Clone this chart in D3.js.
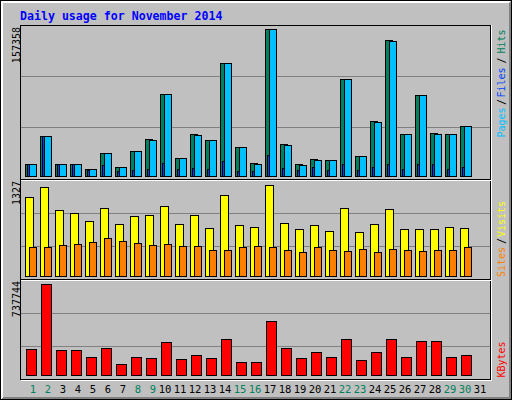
<!DOCTYPE html>
<html>
<head>
<meta charset="utf-8">
<script src="https://cdn.jsdelivr.net/npm/d3@7"></script>
<style>
  body { margin: 0; background: #fff; }
  svg { display: block; }
  text { font-family: "DejaVu Sans Mono", monospace; }
</style>
</head>
<body>
<svg></svg>
<script>
// daily values
const days = [1,2,3,4,5,6,7,8,9,10,11,12,13,14,15,16,17,18,19,20,21,22,23,24,25,26,27,28,29,30,31];
const weekend = [1,2,8,9,15,16,22,23,29,30];

const hits  = [12870,42790,12910,12820,7480,24650,9610,26790,39580,87810,19240,44990,38510,120940,31070,13890,
               157358,34230,12880,18170,17150,103870,21380,58910,145560,44930,86740,46060,44980,53490,0];
const files = [12400,42400,12500,12450,6300,11650,5450,6420,7380,13950,7560,8610,7470,16120,5380,5420,
               22460,8540,6380,9660,6450,12790,6390,9580,12860,7510,12830,12900,7420,9620,0];
const pages = [12650,42500,12700,12600,7350,24420,9480,26580,38500,87540,19100,43880,38350,120700,30880,12800,
               157100,33200,11780,17100,16990,103650,21260,57830,144450,44800,86550,44920,44850,53350,0];
const visits = [1152,1298,962,919,802,992,758,875,889,1021,760,887,700,1181,744,715,
                1327,773,685,742,656,990,642,756,977,686,683,687,714,701,0];
const sites  = [423,421,452,467,496,554,510,481,450,465,437,438,379,380,424,436,
                422,378,350,425,381,365,394,351,393,379,364,377,382,426,0];
const kbytes = [210900,737744,202500,202800,146100,218700,89300,145800,137700,267600,129600,162300,137900,291700,105500,105300,
                437900,218900,137600,186400,146000,291900,121700,186600,292000,145900,275500,275800,145700,162100,0];

const maxLabels = ["157358", "1327", "737744"];
const title = "Daily usage for November 2014";

const W = 512, H = 400;

const svg = d3.select("svg")
    .attr("width", W)
    .attr("height", H)
    .attr("shape-rendering", "crispEdges");

// 3d frame
svg.append("rect")
    .attr("x", 0.5).attr("y", 0.5)
    .attr("width", W - 1).attr("height", H - 1)
    .attr("fill", "#c0c0c0")
    .attr("stroke", "#000");
svg.append("path")
    .attr("d", "M1,1 H510 L508,3 H3 V397 L1,399 Z")
    .attr("fill", "#fff");
svg.append("path")
    .attr("d", "M511,1 V399 H1 L3,397 H509 V3 Z")
    .attr("fill", "#808080");

svg.append("text")
    .attr("x", 20)
    .attr("y", 19.5)
    .attr("font-size", "11.6px")
    .attr("font-weight", "bold")
    .attr("fill", "#0000ff")
    .text(title);

// scales
const xDay = d3.scaleLinear().domain([1, 31]).range([25, 475]);
const yHits = d3.scaleLinear().domain([0, +maxLabels[0]]).range([176, 29]);
const yVisits = d3.scaleLinear().domain([0, +maxLabels[1]]).range([276, 185]);
const yKB = d3.scaleLinear().domain([0, +maxLabels[2]]).range([375, 284]);

// grid lines
const gridRows = [76, 127, 213, 246, 313, 346];
svg.append("g").selectAll("line")
    .data(gridRows)
    .join("line")
    .attr("x1", 21).attr("x2", 490)
    .attr("y1", d => d + 0.5).attr("y2", d => d + 0.5)
    .attr("stroke", "#808080");

// panel outlines
const frame = svg.append("g");
frame.append("path")
    .attr("d", "M20.5,380 V25.5 H490.5 V380 M20,179.5 H491 M20,279.5 H491 M20,379.5 H491")
    .attr("fill", "none").attr("stroke", "#000");
frame.append("path")
    .attr("d", "M21,180.5 H491 M21,280.5 H491 M21,380.5 H492 M491.5,25 V381")
    .attr("fill", "none").attr("stroke", "#fff");

function drawBars(values, y, dx, w, color) {
    const rows = days.map((d, i) => ({ day: d, v: values[i] })).filter(d => d.v > 0);
    svg.append("g").selectAll("rect")
        .data(rows)
        .join("rect")
        .attr("x", d => xDay(d.day) + dx + 0.5)
        .attr("y", d => Math.round(y(d.v)) + 0.5)
        .attr("width", w)
        .attr("height", d => y(0) - Math.round(y(d.v)))
        .attr("fill", color)
        .attr("stroke", "#000");
}

drawBars(hits, yHits, 0, 7, "#00805c");
drawBars(files, yHits, 2, 7, "#0040ff");
drawBars(pages, yHits, 4, 7, "#00c0ff");
drawBars(visits, yVisits, 0, 8, "#ffff00");
drawBars(sites, yVisits, 4, 7, "#ff8000");
drawBars(kbytes, yKB, 1, 10, "#ff0000");

// day labels
svg.append("g").selectAll("text")
    .data(days)
    .join("text")
    .attr("x", d => xDay(d) + (d < 10 ? 8 : 5))
    .attr("y", 393)
    .attr("text-anchor", "middle")
    .attr("font-size", "10.5px")
    .attr("fill", d => weekend.includes(d) ? "#00805c" : "#000")
    .text(d => d);

// max values, rotated
const maxTops = [27, 181, 281];
svg.append("g").selectAll("text")
    .data(maxLabels)
    .join("text")
    .attr("transform", (d, i) => `translate(19.5,${maxTops[i]}) rotate(-90)`)
    .attr("text-anchor", "end")
    .attr("font-size", "10px")
    .attr("fill", "#000")
    .text(d => d);

// legend on the right
const legend = [
    { t: "Pages", c: "#00c0ff", y: 137.5 },
    { t: "/", c: "#000", y: 105 },
    { t: "Files", c: "#0040ff", y: 97.5 },
    { t: "/", c: "#000", y: 63.5 },
    { t: "Hits", c: "#00805c", y: 53.5 },
    { t: "Sites", c: "#ff8000", y: 277 },
    { t: "/", c: "#000", y: 244 },
    { t: "Visits", c: "#ffff00", y: 237 },
    { t: "KBytes", c: "#ff0000", y: 377.5 }
];
svg.append("g").selectAll("text")
    .data(legend)
    .join("text")
    .attr("transform", d => `translate(504.5,${d.y}) rotate(-90)`)
    .attr("font-size", "10px")
    .attr("fill", d => d.c)
    .text(d => d.t);
</script>
</body>
</html>
